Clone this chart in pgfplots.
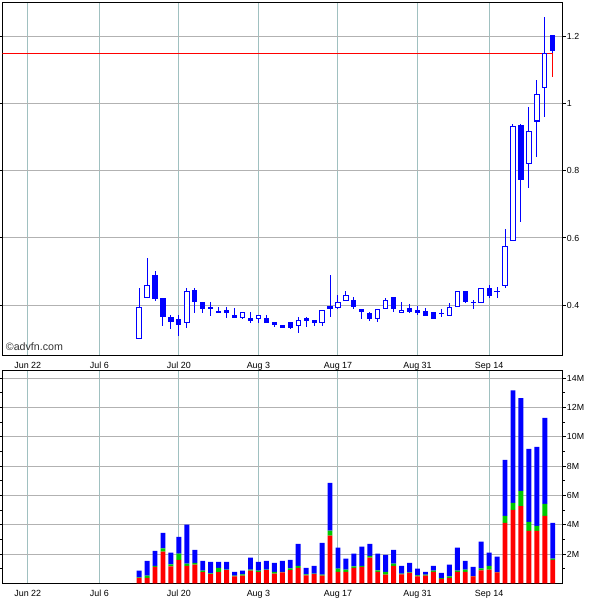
\documentclass[border=0pt]{standalone}
\usepackage{fontspec}
\setmainfont{Liberation Sans}
\usepackage{pgfplots}
\usepackage{pgfplotstable}
\pgfplotsset{compat=1.18}

\definecolor{cblue}{RGB}{0,0,255}
\definecolor{cred}{RGB}{255,0,0}
\definecolor{cgreen}{RGB}{0,200,0}
\definecolor{hgrid}{RGB}{178,178,178}
\definecolor{vgrid}{RGB}{160,192,192}

% up (hollow) candles: index of trading day (0 = Jun 22), open high low close
\pgfplotstableread{
i o h l c
14 0.300 0.450 0.300 0.393
15 0.423 0.541 0.420 0.459
20 0.348 0.451 0.332 0.441
27 0.362 0.378 0.359 0.378
29 0.360 0.370 0.347 0.368
34 0.339 0.363 0.317 0.354
37 0.348 0.384 0.338 0.384
39 0.393 0.430 0.389 0.408
40 0.414 0.441 0.414 0.429
44 0.360 0.389 0.348 0.386
45 0.390 0.420 0.390 0.414
47 0.378 0.408 0.378 0.384
53 0.369 0.407 0.369 0.393
54 0.396 0.441 0.393 0.441
57 0.408 0.450 0.408 0.450
60 0.457 0.626 0.450 0.574
61 0.594 0.940 0.594 0.932
63 0.821 0.992 0.748 0.917
64 0.949 1.072 0.843 1.029
65 1.050 1.260 0.960 1.151
}\up

% down (filled) candles
\pgfplotstableread{
i o h l c
16 0.490 0.501 0.413 0.418
17 0.420 0.420 0.338 0.363
18 0.363 0.370 0.330 0.348
19 0.359 0.370 0.308 0.339
21 0.444 0.450 0.377 0.408
22 0.409 0.409 0.377 0.389
23 0.393 0.409 0.368 0.388
24 0.380 0.394 0.375 0.379
25 0.385 0.394 0.362 0.377
26 0.369 0.390 0.362 0.362
28 0.360 0.378 0.347 0.353
30 0.360 0.370 0.347 0.347
31 0.348 0.348 0.336 0.341
32 0.339 0.339 0.332 0.332
33 0.348 0.348 0.328 0.332
35 0.360 0.363 0.336 0.353
36 0.354 0.354 0.338 0.345
38 0.397 0.490 0.363 0.389
41 0.414 0.424 0.389 0.393
42 0.387 0.387 0.359 0.378
43 0.375 0.378 0.352 0.359
46 0.423 0.423 0.380 0.389
48 0.390 0.402 0.377 0.380
49 0.385 0.397 0.369 0.377
50 0.381 0.390 0.368 0.368
51 0.378 0.378 0.359 0.359
52 0.376 0.387 0.363 0.375
55 0.441 0.441 0.405 0.408
56 0.409 0.415 0.389 0.408
58 0.450 0.460 0.420 0.428
59 0.441 0.455 0.420 0.440
62 0.936 0.940 0.649 0.773
66 1.206 1.206 1.080 1.159
}\down

% volume in millions: red top, green top, blue top (cumulative)
\pgfplotstableread{
i r g b
14 0.38 0.40 0.86
15 0.38 0.52 1.54
16 1.13 1.20 2.22
17 2.16 2.38 3.45
18 1.16 1.29 2.09
19 1.61 2.02 3.18
20 1.20 1.34 4.00
21 1.27 1.40 2.29
22 0.77 0.86 1.54
23 0.63 0.68 1.47
24 0.77 1.06 1.47
25 0.90 0.93 1.47
26 0.47 0.52 0.79
27 0.52 0.61 0.86
28 0.86 0.93 1.75
29 0.77 0.86 1.47
30 0.90 0.93 1.54
31 0.66 0.79 1.40
32 0.75 0.79 1.54
33 0.90 1.02 1.61
34 1.06 1.20 2.70
35 0.54 0.61 1.06
36 0.63 0.66 1.20
37 0.52 0.59 2.77
38 3.25 3.60 6.86
39 0.79 1.00 2.43
40 0.79 0.93 1.68
41 1.06 1.15 2.02
42 1.13 1.20 2.50
43 1.75 1.88 2.70
44 0.79 0.88 2.02
45 0.59 0.79 1.95
46 1.20 1.34 2.29
47 0.61 0.66 1.20
48 0.72 0.75 1.40
49 0.47 0.54 1.00
50 0.52 0.59 0.79
51 0.79 0.86 1.20
52 0.31 0.36 0.72
53 0.38 0.47 1.27
54 0.79 0.86 2.43
55 0.79 0.93 1.54
56 0.47 0.50 1.13
57 0.88 1.02 2.84
58 0.93 1.20 2.09
59 0.75 0.77 1.82
60 4.13 4.61 8.43
61 5.02 5.50 13.18
62 5.27 6.31 12.65
63 3.59 4.20 9.18
64 3.59 3.93 9.31
65 4.61 5.43 11.29
66 1.61 1.68 4.13
}\vol

\pgfplotsset{
  common/.style={
    scale only axis,
    width=420pt,
    xmin=-3.2, xmax=67.2,
    axis line style={line width=1pt, black},
    xtick={0,9,19,29,39,49,58},
    xticklabels={Jun 22,Jul 6,Jul 20,Aug 3,Aug 17,Aug 31,Sep 14},
    x tick style={draw=none},
    xticklabel style={font=\fontsize{6.7}{7}\selectfont, inner sep=0pt, yshift=-2.2pt},
    xmajorgrids, ymajorgrids,
    x grid style={vgrid, line width=0.75pt},
    y grid style={hgrid, line width=0.75pt},
    yticklabel pos=right,
    tick align=outside,
    y tick style={black, line width=0.75pt},
    major tick length=2.5pt,
    minor tick length=1.8pt,
    yticklabel style={font=\fontsize{6.6}{7}\selectfont, inner sep=0.8pt},
    clip=true,
  }
}

\begin{document}
\begin{tikzpicture}
\useasboundingbox (0pt,0pt) rectangle (450pt,450pt);
% ---------------- price panel ----------------
\begin{axis}[common,
  at={(1.725pt,183.5pt)}, anchor=south west,
  height=264.5pt,
  ymin=0.25, ymax=1.302,
  ytick={0.4,0.6,0.8,1,1.2},
  yticklabels={0.4,0.6,0.8,1,1.2},
]
% wicks
\addplot[draw=none, mark=none, forget plot,
  error bars/.cd, y dir=both, y explicit, error mark=none,
  error bar style={draw=cblue, line width=0.75pt}]
  table[x=i, y expr={(\thisrow{h}+\thisrow{l})/2}, y error expr={(\thisrow{h}-\thisrow{l})/2}] {\up};
\addplot[draw=none, mark=none, forget plot,
  error bars/.cd, y dir=both, y explicit, error mark=none,
  error bar style={draw=cblue, line width=0.75pt}]
  table[x=i, y expr={(\thisrow{h}+\thisrow{l})/2}, y error expr={(\thisrow{h}-\thisrow{l})/2}] {\down};
% last price line
\addplot[cred, line width=0.75pt, mark=none] coordinates {(-3.2,1.151) (66,1.151) (66,1.08)};
% hollow bodies: blue outer, white inner
\addplot[draw=none, mark=none, forget plot,
  error bars/.cd, y dir=both, y explicit, error mark=none,
  error bar style={draw=cblue, line width=4pt}]
  table[x=i, y expr={(\thisrow{o}+\thisrow{c})/2}, y error expr={abs(\thisrow{c}-\thisrow{o})/2+0.0015}] {\up};
\addplot[draw=none, mark=none, forget plot,
  error bars/.cd, y dir=both, y explicit, error mark=none,
  error bar style={draw=white, line width=2.5pt}]
  table[x=i, y expr={(\thisrow{o}+\thisrow{c})/2}, y error expr={abs(\thisrow{c}-\thisrow{o})/2-0.0015}] {\up};
% filled bodies
\addplot[draw=none, mark=none, forget plot,
  error bars/.cd, y dir=both, y explicit, error mark=none,
  error bar style={draw=cblue, line width=3.9pt}]
  table[x=i, y expr={(\thisrow{o}+\thisrow{c})/2}, y error expr={max(abs(\thisrow{c}-\thisrow{o})/2,0.002)}] {\down};
\node[anchor=west, font=\fontsize{8}{9}\selectfont, text=black!80, inner sep=0pt]
  at (axis description cs:0.006,0.0245) {©advfn.com};
\end{axis}
% ---------------- volume panel ----------------
\begin{axis}[common,
  at={(1.725pt,12.5pt)}, anchor=south west,
  height=159.5pt,
  ymin=0, ymax=14.52,
  ytick={2,4,6,8,10,12,14},
  yticklabels={2M,4M,6M,8M,10M,12M,14M},
  minor ytick={1,3,5,7,9,11,13},
  ybar stacked, bar width=3.7pt,
]
\addplot[fill=cred, draw=none] table[x=i, y=r] {\vol};
\addplot[fill=cgreen, draw=none] table[x=i, y expr={\thisrow{g}-\thisrow{r}}] {\vol};
\addplot[fill=cblue, draw=none] table[x=i, y expr={\thisrow{b}-\thisrow{g}}] {\vol};
\end{axis}
\end{tikzpicture}
\end{document}
